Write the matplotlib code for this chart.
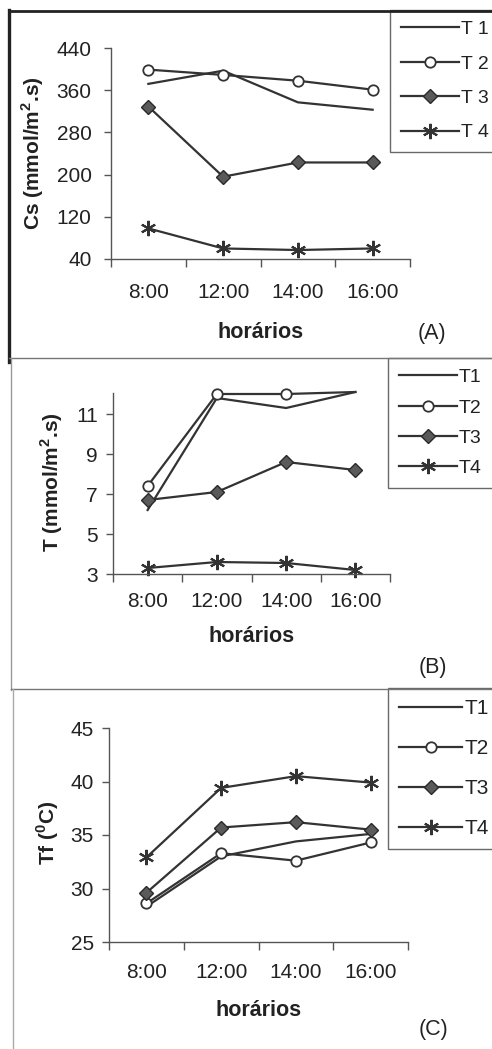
import numpy as np
import matplotlib
matplotlib.use('Agg')
import matplotlib.pyplot as plt
from matplotlib.lines import Line2D

plt.rcParams['font.family'] = ['Liberation Sans', 'DejaVu Sans']
plt.rcParams['mathtext.fontset'] = 'custom'
plt.rcParams['mathtext.rm'] = 'Liberation Sans'
plt.rcParams['mathtext.bf'] = 'Liberation Sans:bold'

hours = ['8:00', '12:00', '14:00', '16:00']

# (A) condutancia estomatica
cs_t1 = [372, 397, 337, 323]
cs_t2 = [399, 389, 378, 361]
cs_t3 = [329, 196, 223, 223]
cs_t4 = [98, 60, 57, 60]

# (B) transpiracao
tr_t1 = [6.2, 11.8, 11.3, 12.1]
tr_t2 = [7.4, 12.0, 12.0, 12.1]
tr_t3 = [6.7, 7.1, 8.6, 8.2]
tr_t4 = [3.3, 3.6, 3.55, 3.2]

# (C) temperatura foliar
tf_t1 = [28.3, 33.0, 34.4, 35.1]
tf_t2 = [28.6, 33.3, 32.6, 34.3]
tf_t3 = [29.6, 35.7, 36.2, 35.5]
tf_t4 = [32.9, 39.4, 40.5, 39.9]

W, H = 492, 1049
fig = plt.figure(figsize=(W / 100, H / 100), dpi=100)

LC = '#333333'
ast = (6, 2, 0)
styles = [
    dict(marker=None),
    dict(marker='o', ms=7.5, mfc='white', mec=LC, mew=1.3),
    dict(marker='D', ms=7.5, mfc='#5a5a5a', mec='#2a2a2a', mew=1.0),
    dict(marker=ast, ms=11, mec=LC, mew=1.5),
]


def px_axes(l, r, t, b):
    return fig.add_axes([l / W, 1 - b / H, (r - l) / W, (b - t) / H])


def fline(x0, y0, x1, y1, **kw):
    fig.add_artist(Line2D([x0 / W, x1 / W], [1 - y0 / H, 1 - y1 / H], **kw))


def panel(ax, series, labels, ylim, yticks, ylabel, lab_xy, xlab_y, tag, tag_xy,
          leg_box, leg_fs, leg_sp, ypad, xpad, mevery=None):
    x = np.arange(len(hours))
    for i, (vals, lab) in enumerate(zip(series, labels)):
        kw = dict(styles[i])
        if mevery is not None and i == 1:
            kw['markevery'] = mevery
        ax.plot(x, vals, color=LC, lw=1.6, label=lab, clip_on=False, **kw)
    ax.set_xlim(-0.5, len(hours) - 0.5)
    ax.set_ylim(*ylim)
    ax.set_yticks(yticks)
    ax.set_xticks(np.arange(len(hours) + 1) - 0.5)
    ax.set_xticklabels([])
    ax.set_xticks(x, minor=True)
    ax.set_xticklabels(hours, minor=True)
    ax.tick_params(axis='x', which='major', length=6, width=1, color='#555555', direction='out')
    ax.tick_params(axis='x', which='minor', length=0, pad=xpad, labelsize=15, labelcolor='#222222')
    ax.tick_params(axis='y', length=5, width=1, color='#555555', pad=ypad, labelsize=15,
                   labelcolor='#222222')
    for s in ['top', 'right']:
        ax.spines[s].set_visible(False)
    for s in ['left', 'bottom']:
        ax.spines[s].set_color('#555555')
        ax.spines[s].set_linewidth(1.0)
    ax.set_ylabel(ylabel, fontsize=15, fontweight='bold', color='#222222')
    ax.yaxis.set_label_coords(*lab_xy)
    ax.yaxis.label.set_va('center')
    ax.set_xlabel('horários', fontsize=15.5, fontweight='bold', color='#222222')
    ax.xaxis.set_label_coords(0.5, xlab_y)
    ax.xaxis.label.set_va('center')
    fig.text(tag_xy[0] / W, 1 - tag_xy[1] / H, tag, fontsize=15.5, ha='center', va='center',
             color='#222222')
    l, t, r = leg_box
    leg = ax.legend(loc='upper left', bbox_to_anchor=(l / W, 1 - t / H, (r - l) / W, 0),
                    bbox_transform=fig.transFigure, mode='expand', fontsize=leg_fs,
                    handlelength=3.0, handletextpad=0.1, labelspacing=leg_sp,
                    borderpad=0.55, fancybox=False, frameon=True, borderaxespad=0)
    leg.get_frame().set_edgecolor('#444444')
    leg.get_frame().set_linewidth(1.0)
    for txt in leg.get_texts():
        txt.set_color('#222222')


axA = px_axes(111, 410, 48, 259)
panel(axA, [cs_t1, cs_t2, cs_t3, cs_t4], ['T 1', 'T 2', 'T 3', 'T 4'],
      (40, 440), np.arange(40, 441, 80), r'Cs (mmol/m$^\mathbf{2}$.s)',
      (-0.262, 0.5), -0.346, '(A)', (432, 333), (390, 10, 496), 14, 0.86, 9, 17)

axB = px_axes(113, 390, 393, 574)
panel(axB, [tr_t1, tr_t2, tr_t3, tr_t4], ['T1', 'T2', 'T3', 'T4'],
      (3, 12.05), [3, 5, 7, 9, 11], r'T (mmol/m$^\mathbf{2}$.s)',
      (-0.22, 0.506), -0.344, '(B)', (433, 668), (388, 358, 496), 14, 0.65, 6, 13,
      mevery=[0, 1, 2])

axC = px_axes(109, 408, 728, 942)
panel(axC, [tf_t1, tf_t2, tf_t3, tf_t4], ['T1', 'T2', 'T3', 'T4'],
      (25, 45), np.arange(25, 46, 5), r'Tf ($^\mathbf{0}$C)',
      (-0.204, 0.509), -0.318, '(C)', (434, 1030), (388, 688, 496), 15, 1.0, 6, 15)

# panel frames
fline(9, 11, 496, 11, color='#222222', lw=2.0)
fline(9, 10, 9, 362, color='#222222', lw=2.4)
fline(9, 358, 496, 358, color='#777777', lw=1.0)
fline(11, 358, 11, 690, color='#999999', lw=1.0)
fline(11, 689, 496, 689, color='#777777', lw=1.0)
fline(13, 689, 13, 1050, color='#aaaaaa', lw=1.0)

fig.savefig('out.png', dpi=100, facecolor='white')
